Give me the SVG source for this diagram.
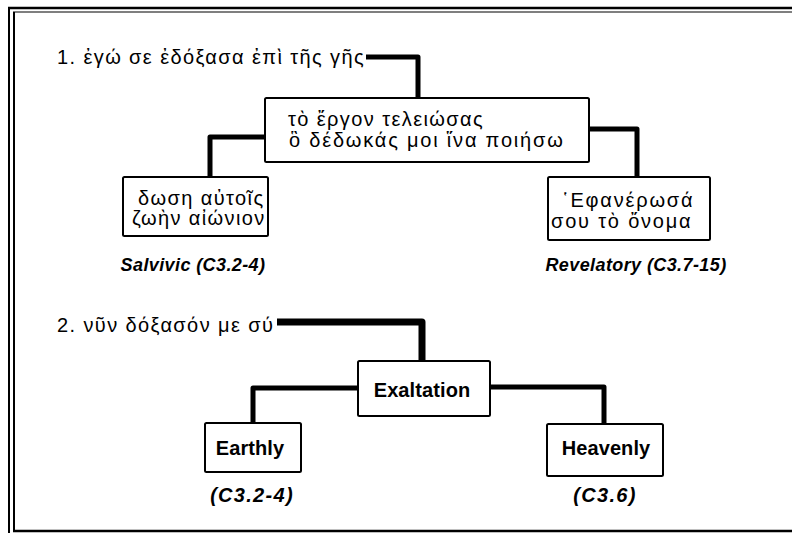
<svg xmlns="http://www.w3.org/2000/svg" width="792" height="533" viewBox="0 0 792 533">
  <style>
    .frame { fill: none; stroke: #000; }
    .box { fill: #fff; stroke: #000; stroke-width: 2; }
    .wire { fill: none; stroke: #000; stroke-width: 5; stroke-linejoin: round; stroke-linecap: butt; }
    .wire-thick { stroke-width: 7; }
    .gr { font-family: "Liberation Sans", Arial, sans-serif; font-size: 20px; letter-spacing: 1.4px; fill: #000; }
    .wide { letter-spacing: 1.8px; }
    .lbl { font-family: "Liberation Sans", Arial, sans-serif; font-size: 20px; font-weight: bold; letter-spacing: 0.1px; fill: #000; }
    .cap { font-family: "Liberation Sans", Arial, sans-serif; font-size: 18px; font-weight: bold; font-style: italic; letter-spacing: 0.4px; fill: #000; }
    .cap2 { font-family: "Liberation Sans", Arial, sans-serif; font-size: 20px; font-weight: bold; font-style: italic; letter-spacing: 1.3px; fill: #000; }
  </style>
  <rect width="792" height="533" fill="#fff"/>

  <!-- page frame: double rule on top and left, single rule at the bottom -->
  <g id="frame">
    <line class="frame" x1="8" y1="8" x2="792" y2="8" stroke-width="2.5"/>
    <line class="frame" x1="13" y1="12" x2="792" y2="12" stroke-width="1.2"/>
    <line class="frame" x1="9" y1="8" x2="9" y2="533" stroke-width="2"/>
    <line class="frame" x1="14" y1="12" x2="14" y2="531" stroke-width="2"/>
    <line class="frame" x1="13" y1="531" x2="792" y2="531" stroke-width="2.5"/>
  </g>

  <!-- connectors -->
  <g id="connectors">
    <polyline class="wire" points="366,57 418,57 418,98"/>
    <polyline class="wire" points="265,137 210,137 210,177"/>
    <polyline class="wire" points="589,129 637,129 637,177"/>
    <polyline class="wire wire-thick" points="277,322 422,322 422,361"/>
    <polyline class="wire" points="358,388 253,388 253,423"/>
    <polyline class="wire" points="490,387 604,387 604,424"/>
  </g>

  <!-- section 1 -->
  <g id="heading1">
    <text class="gr" x="57" y="64">1. ἐγώ σε ἐδόξασα ἐπὶ τῆς γῆς</text>
  </g>
  <g id="work">
    <rect class="box" x="265" y="98" width="324" height="64" rx="1.5"/>
    <text class="gr" x="288" y="126">τὸ ἔργον τελειώσας</text>
    <text class="gr wide" x="289" y="147">ὃ δέδωκάς μοι ἵνα ποιήσω</text>
  </g>
  <g id="salvivic">
    <rect class="box" x="123" y="177" width="145" height="59" rx="1.5"/>
    <text class="gr" x="138" y="205">δωση αὐτοῖς</text>
    <text class="gr" x="132" y="225">ζωὴν αἰώνιον</text>
    <text class="cap" x="193" y="271" text-anchor="middle">Salvivic (C3.2-4)</text>
  </g>
  <g id="revelatory">
    <rect class="box" x="548" y="177" width="162" height="63" rx="1.5"/>
    <text class="gr wide" x="562" y="207">῾Εφανέρωσά</text>
    <text class="gr wide" x="551" y="228">σου τὸ ὄνομα</text>
    <text class="cap" x="636" y="271" text-anchor="middle">Revelatory (C3.7-15)</text>
  </g>

  <!-- section 2 -->
  <g id="heading2">
    <text class="gr" x="57" y="332">2. νῦν δόξασόν με σύ</text>
  </g>
  <g id="exaltation">
    <rect class="box" x="358" y="361" width="132" height="55" rx="1.5"/>
    <text class="lbl" x="422" y="397" text-anchor="middle">Exaltation</text>
  </g>
  <g id="earthly">
    <rect class="box" x="205" y="423" width="96" height="49" rx="1.5"/>
    <text class="lbl" x="250" y="455" text-anchor="middle">Earthly</text>
    <text class="cap2" x="252" y="502" text-anchor="middle">(C3.2-4)</text>
  </g>
  <g id="heavenly">
    <rect class="box" x="547" y="424" width="116" height="52" rx="1.5"/>
    <text class="lbl" x="606" y="455" text-anchor="middle">Heavenly</text>
    <text class="cap2" x="605" y="502" text-anchor="middle">(C3.6)</text>
  </g>
</svg>
